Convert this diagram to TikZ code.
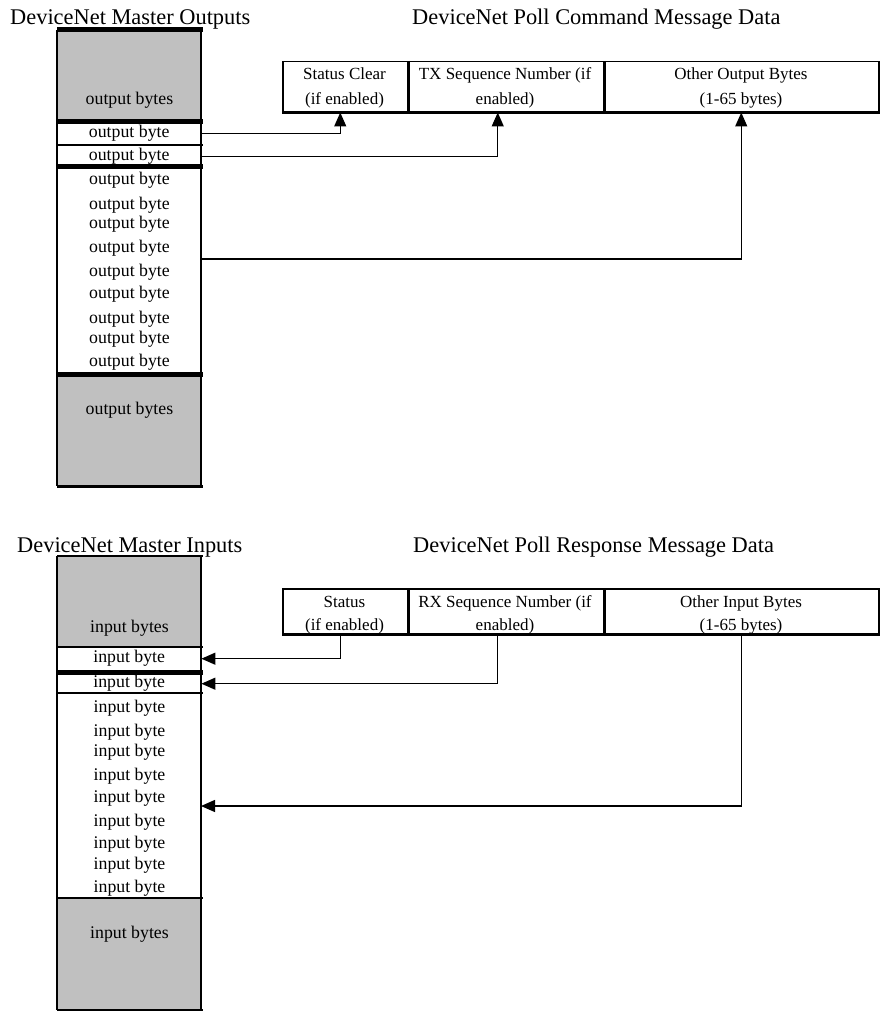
\documentclass[tikz,border=0pt]{standalone}
\usepackage{fontspec}
\setmainfont{Liberation Serif}
\usetikzlibrary{arrows.meta}
\definecolor{boxgray}{RGB}{192,192,192}
\begin{document}
\begin{tikzpicture}[x=1pt,y=-1pt,
  title/.style={anchor=base west, inner sep=0, font=\fontsize{22.4}{26}\selectfont},
  celltext/.style={anchor=base, inner sep=0, font=\fontsize{17.8}{20}\selectfont},
  msgtext/.style={anchor=base, inner sep=0, font=\fontsize{17}{20}\selectfont},
  rowbox/.style={minimum width=144, inner sep=0, anchor=north west, font=\fontsize{17.8}{20}\selectfont},
  msg/.style={draw, line width=1.5, inner sep=0, anchor=north west},
  thin/.style={line width=1.3},
  thick/.style={line width=5},
  conn/.style={line width=1.3},
  arr/.style={conn, -{Triangle[length=14,width=12]}}]
\useasboundingbox (0,0) rectangle (879,1011);

% ---------------- Titles
\node[title] (t1) at (10,25) {DeviceNet Master Outputs};
\node[title] (t2) at (412,25) {DeviceNet Poll Command Message Data};
\node[title] (t3) at (17,552) {DeviceNet Master Inputs};
\node[title] (t4) at (413,552) {DeviceNet Poll Response Message Data};

% ---------------- Output column
\fill[boxgray] (57,30) rectangle (201,122);
\fill[boxgray] (57,374) rectangle (201,486);
\draw[thin] (57,30) -- (57,486);
\draw[thin] (201,30) -- (201,486);
\draw[thick] (57,30) -- (203,30);
\draw[thick] (57,122) -- (203,122);
\draw[thin] (57,145) -- (203,145);
\draw[thick] (57,167) -- (203,167);
\draw[thick] (57,374) -- (203,374);
\draw[line width=3] (57,486) -- (203,486);

\node[celltext] (og1) at (129.5,105) {output bytes};
\node[rowbox, minimum height=23] (ob1) at (57,122) {output byte};
\node[rowbox, minimum height=22] (ob2) at (57,145) {output byte};
\foreach \y [count=\i from 3] in {180,204,223,247,271,293,318,338,361}
  \node[celltext] (ob\i) at (129.5,\y+5) {output byte};
\node[celltext] (og2) at (129.5,414) {output bytes};
\coordinate (oc) at (201,259);

% ---------------- Command message
\node[msg, minimum width=125, minimum height=50] (sc) at (282,61) {};
\node[msg, minimum width=196, minimum height=50] (tx) at (407,61) {};
\node[msg, minimum width=275, minimum height=50] (oo) at (603,61) {};
\draw[line width=3] (sc.south west) -- (oo.south east);
\draw[line width=2.5] (sc.north east) -- (sc.south east);
\draw[line width=2.5] (tx.north east) -- (tx.south east);
\node[msgtext] (sc1) at (344.5,80) {Status Clear};
\node[msgtext] (sc2) at (344.5,105) {(if enabled)};
\node[msgtext] (tx1) at (505,80) {TX Sequence Number (if};
\node[msgtext] (tx2) at (505,105) {enabled)};
\node[msgtext] (oo1) at (741,80) {Other Output Bytes};
\node[msgtext] (oo2) at (741,105) {(1-65 bytes)};

\draw[arr] (ob1.east) -| ([xshift=-5]sc.south);
\draw[arr] (ob2.east) -| ([xshift=-8]tx.south);
\draw[arr] (oc) -| (oo.south);

% ---------------- Input column
\fill[boxgray] (57,556) rectangle (201,647);
\fill[boxgray] (57,898) rectangle (201,1010);
\draw[thin] (57,556) -- (57,1010);
\draw[thin] (201,556) -- (201,1010);
\draw[thin] (57,556) -- (203,556);
\draw[thin] (57,647) -- (203,647);
\draw[thick] (57,672) -- (203,672);
\draw[thin] (57,693) -- (203,693);
\draw[thin] (57,898) -- (203,898);
\draw[line width=2] (57,1010) -- (203,1010);

\node[celltext] (ig1) at (129.5,632) {input bytes};
\node[rowbox, minimum height=23] (ib1) at (57,647) {input byte};
\node[rowbox, minimum height=19] (ib2) at (57,674) {input byte};
\foreach \y [count=\i from 3] in {707,731,751,775,797,821,843,864,887}
  \node[celltext] (ib\i) at (129.5,\y+5) {input byte};
\node[celltext] (ig2) at (129.5,938) {input bytes};
\coordinate (ic) at (201,806);

% ---------------- Response message
\node[msg, minimum width=125, minimum height=45] (st) at (282,588) {};
\node[msg, minimum width=196, minimum height=45] (rx) at (407,588) {};
\node[msg, minimum width=275, minimum height=45] (oi) at (603,588) {};
\draw[line width=3] (st.south west) -- (oi.south east);
\draw[line width=2.5] (st.north east) -- (st.south east);
\draw[line width=2.5] (rx.north east) -- (rx.south east);
\node[msgtext] (st1) at (344.5,607) {Status};
\node[msgtext] (st2) at (344.5,630) {(if enabled)};
\node[msgtext] (rx1) at (505,607) {RX Sequence Number (if};
\node[msgtext] (rx2) at (505,630) {enabled)};
\node[msgtext] (oi1) at (741,607) {Other Input Bytes};
\node[msgtext] (oi2) at (741,630) {(1-65 bytes)};

\draw[arr] ([xshift=-5]st.south) |- (ib1.east);
\draw[arr] ([xshift=-8]rx.south) |- (ib2.east);
\draw[arr] (oi.south) |- (ic);
\end{tikzpicture}
\end{document}
